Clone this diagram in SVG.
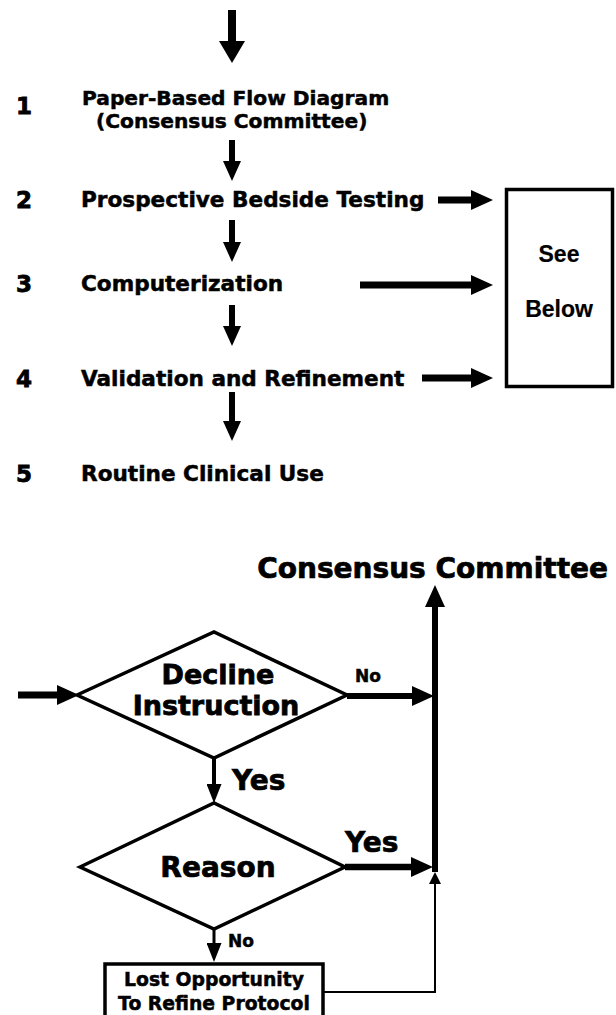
<svg xmlns="http://www.w3.org/2000/svg" width="616" height="1015" viewBox="0 0 616 1015">
<style>
  text { font-family: "DejaVu Sans", "Liberation Sans", sans-serif; font-weight: bold; fill: #000; stroke: #000; stroke-width: 0.5; }
  .step { font-size: 21.6px; }
  .step1 { font-size: 20.2px; }
  .num { font-size: 23px; stroke-width: 0.8; }
  .big { font-size: 28px; stroke-width: 0.7; }
  .dec { font-size: 27px; stroke-width: 0.8; }
  .lbl { font-size: 17px; }
  .box { font-size: 18.8px; }
  .see { font-family: "Liberation Sans", Arial, sans-serif; font-size: 23px; stroke-width: 0.2; }
  .shape { fill: #fff; stroke: #000; stroke-width: 3.5; }
  .conn { stroke: #000; fill: none; }
</style>
<defs>
  <marker id="ahBig" markerUnits="userSpaceOnUse" markerWidth="22" markerHeight="26" refX="0" refY="13" orient="auto">
    <path d="M0,0 L22,13 L0,26 Z" fill="#000"/>
  </marker>
  <marker id="ah" markerUnits="userSpaceOnUse" markerWidth="22" markerHeight="20" refX="0" refY="10" orient="auto">
    <path d="M0,0 L22,10 L0,20 Z" fill="#000"/>
  </marker>
  <marker id="ahDown" markerUnits="userSpaceOnUse" markerWidth="20" markerHeight="18" refX="0" refY="9" orient="auto">
    <path d="M0,0 L20,9 L0,18 Z" fill="#000"/>
  </marker>
  <marker id="ahSmall" markerUnits="userSpaceOnUse" markerWidth="19" markerHeight="15" refX="0" refY="7.5" orient="auto">
    <path d="M0,0 L19,7.5 L0,15 Z" fill="#000"/>
  </marker>
  <marker id="ahTiny" markerUnits="userSpaceOnUse" markerWidth="12" markerHeight="12" refX="0" refY="6" orient="auto">
    <path d="M0,0 L12,6 L0,12 Z" fill="#000"/>
  </marker>
</defs>

<g id="connectors" class="conn">
  <!-- top flow down arrows -->
  <line x1="232" y1="10" x2="232" y2="41" stroke-width="8" marker-end="url(#ahBig)"/>
  <line x1="232" y1="140" x2="232" y2="161" stroke-width="6" marker-end="url(#ahDown)"/>
  <line x1="232" y1="220" x2="232" y2="242" stroke-width="6" marker-end="url(#ahDown)"/>
  <line x1="232" y1="305" x2="232" y2="326" stroke-width="6" marker-end="url(#ahDown)"/>
  <line x1="232" y1="392" x2="232" y2="421" stroke-width="6" marker-end="url(#ahDown)"/>
  <!-- right arrows to See Below -->
  <line x1="438" y1="200" x2="471" y2="200" stroke-width="7" marker-end="url(#ah)"/>
  <line x1="360" y1="285" x2="471" y2="285" stroke-width="7" marker-end="url(#ah)"/>
  <line x1="422" y1="378" x2="471" y2="378" stroke-width="7" marker-end="url(#ah)"/>
  <!-- bottom flow -->
  <line x1="18" y1="695" x2="57" y2="695" stroke-width="7" marker-end="url(#ah)"/>
  <line x1="347" y1="696" x2="412" y2="696" stroke-width="6" marker-end="url(#ah)"/>
  <line x1="435" y1="872" x2="435" y2="607" stroke-width="6" marker-end="url(#ah)"/>
  <line x1="214" y1="758" x2="214" y2="784" stroke-width="4" marker-end="url(#ahSmall)"/>
  <line x1="345" y1="867" x2="411" y2="867" stroke-width="6.5" marker-end="url(#ah)"/>
  <line x1="214" y1="929" x2="214" y2="943" stroke-width="3" marker-end="url(#ahSmall)"/>
  <polyline points="323,992 435,992 435,884" stroke-width="2" marker-end="url(#ahTiny)"/>
</g>

<g id="step1">
  <text class="num" x="16" y="114">1</text>
  <text class="step1" x="82" y="105">Paper-Based Flow Diagram</text>
  <text class="step1" x="96" y="128">(Consensus Committee)</text>
</g>
<g id="step2">
  <text class="num" x="16" y="208">2</text>
  <text class="step" x="81" y="207">Prospective Bedside Testing</text>
</g>
<g id="step3">
  <text class="num" x="16" y="292">3</text>
  <text class="step" x="81" y="291">Computerization</text>
</g>
<g id="step4">
  <text class="num" x="16" y="387">4</text>
  <text class="step" x="81" y="386">Validation and Refinement</text>
</g>
<g id="step5">
  <text class="num" x="16" y="482">5</text>
  <text class="step" x="81" y="481">Routine Clinical Use</text>
</g>
<g id="see-below">
  <rect class="shape" x="506.5" y="189.5" width="106" height="197" stroke-width="3"/>
  <text class="see" x="559" y="262" text-anchor="middle">See</text>
  <text class="see" x="559" y="317" text-anchor="middle">Below</text>
</g>

<g id="consensus-committee">
  <text class="big" x="608" y="578" text-anchor="end">Consensus Committee</text>
</g>
<g id="decline-instruction">
  <polygon class="shape" points="77,695 214,632 347,695 214,758"/>
  <text class="dec" x="218" y="684" text-anchor="middle">Decline</text>
  <text class="dec" x="216" y="715" text-anchor="middle">Instruction</text>
</g>
<g id="reason">
  <polygon class="shape" points="80,867 214,803 345,867 214,929"/>
  <text class="big" x="218" y="877" text-anchor="middle">Reason</text>
</g>
<g id="lost-opportunity">
  <rect class="shape" x="105" y="964" width="218" height="60" stroke-width="3"/>
  <text class="box" x="214" y="986" text-anchor="middle">Lost Opportunity</text>
  <text class="box" x="214" y="1010" text-anchor="middle">To Refine Protocol</text>
</g>
<g id="labels">
  <text class="lbl" x="355" y="682">No</text>
  <text class="big" x="232" y="790">Yes</text>
  <text class="big" x="345" y="852">Yes</text>
  <text class="lbl" x="228" y="947" font-size="16">No</text>
</g>
</svg>
